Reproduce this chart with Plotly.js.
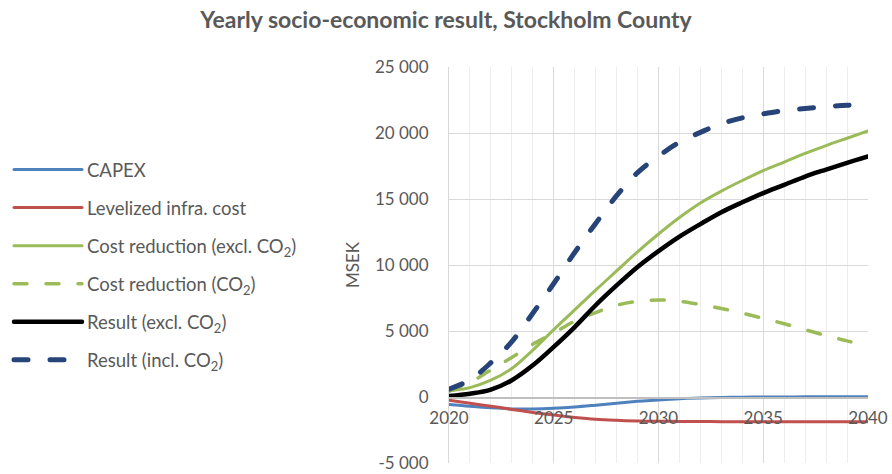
<!DOCTYPE html>
<html>
<head>
<meta charset="utf-8">
<script src="https://cdn.plot.ly/plotly-3.0.1.min.js"></script>
<style>
html,body{margin:0;padding:0;background:#fff;}
.js-line{stroke-linecap:round;}
</style>
</head>
<body>
<div id="chart" style="width:892px;height:474px;"></div>
<script>
const years = [2020,2021,2022,2023,2024,2025,2026,2027,2028,2029,2030,2031,2032,2033,2034,2035,2036,2037,2038,2039,2040];

const capex = [-560,-700,-820,-900,-910,-860,-760,-620,-470,-330,-220,-130,-70,-30,-10,0,0,10,20,20,20];
const levelizedInfra = [-250,-480,-700,-940,-1170,-1370,-1550,-1690,-1770,-1820,-1840,-1850,-1860,-1870,-1870,-1870,-1870,-1870,-1870,-1870,-1870];
const costRedExcl = [460,710,1270,2160,3550,5100,6600,8100,9550,11000,12350,13600,14700,15600,16400,17150,17800,18450,19050,19600,20150];
const costRedCO2 = [450,1100,2050,3000,4000,4850,5750,6400,6950,7250,7350,7250,7000,6700,6350,5950,5550,5100,4650,4250,3850];
const resultExcl = [75,250,560,1270,2400,3800,5300,6950,8450,9850,11050,12150,13100,14000,14750,15450,16070,16700,17230,17740,18220];
const resultIncl = [600,1300,2600,4200,6350,8600,10950,13150,15250,17000,18250,19300,20050,20700,21150,21450,21700,21850,22000,22100,22160];

const yTickVals = [-5000,0,5000,10000,15000,20000,25000];
const yTickText = ['-5 000','0','5 000','10 000','15 000','20 000','25 000'];
const xTickVals = [2020,2025,2030,2035,2040];
const xTickText = ['2020','2025','2030','2035','2040'];

const seriesNames = ['CAPEX','Levelized infra. cost','Cost reduction (excl. CO<sub>2</sub>)','Cost reduction (CO<sub>2</sub>)','Result (excl. CO<sub>2</sub>)','Result (incl. CO<sub>2</sub>)'];
const titleText = '<b>Yearly socio-economic result, Stockholm County</b>';
const yTitle = 'MSEK';

const gray = '#595959';
const font = 'Lato, "Open Sans", sans-serif';

function tr(y, name, color, width, dash, g){
  return {x: years, y: y, name: name, type: 'scatter', mode: 'lines',
    line: {color: color, width: width, dash: dash, shape: 'spline', smoothing: 1},
    legendgroup: g, hoverinfo: 'skip'};
}

const data = [
  tr(capex, seriesNames[0], '#4F81BD', 3, 'solid', 'a'),
  tr(levelizedInfra, seriesNames[1], '#C0504D', 3, 'solid', 'b'),
  tr(costRedExcl, seriesNames[2], '#9BBB59', 3, 'solid', 'c'),
  tr(costRedCO2, seriesNames[3], '#9BBB59', 3.5, '13px,19px', 'd'),
  tr(resultExcl, seriesNames[4], '#000000', 4.5, 'solid', 'e'),
  tr(resultIncl, seriesNames[5], '#264478', 5, '14px,22px', 'f')
];

const layout = {
  width: 892, height: 474,
  margin: {l: 449, r: 24, t: 67, b: 11, pad: 0},
  paper_bgcolor: '#fff', plot_bgcolor: '#fff',
  font: {family: font, color: gray, size: 17},
  title: {text: titleText, font: {family: font, size: 23, color: gray},
    x: 0.5, xref: 'container', xanchor: 'center', y: 1 - 20/474, yref: 'container', yanchor: 'middle'},
  xaxis: {
    range: [2020, 2040], tickmode: 'array', tickvals: xTickVals, ticktext: xTickText,
    anchor: 'free', position: 66/396,
    showgrid: true, gridcolor: '#D9D9D9', gridwidth: 1,
    minor: {dtick: 1, tick0: 2020, showgrid: true, gridcolor: '#EDEDED', gridwidth: 1},
    showline: true, linecolor: '#BFBFBF', linewidth: 1.5,
    ticks: '', ticklabelstandoff: 5,
    tickfont: {family: font, size: 17, color: gray},
    zeroline: false, fixedrange: true
  },
  yaxis: {
    range: [-5000, 25000], tickmode: 'array', tickvals: yTickVals, ticktext: yTickText,
    showgrid: true, gridcolor: '#D9D9D9', gridwidth: 1,
    showline: true, linecolor: '#D9D9D9', linewidth: 1,
    zeroline: false, ticks: '', ticklabelstandoff: 16,
    tickfont: {family: font, size: 17, color: gray},
    title: {text: yTitle, font: {family: font, size: 17, color: gray}, standoff: 10},
    fixedrange: true
  },
  showlegend: true,
  legend: {
    xref: 'container', yref: 'container', x: 9/892, y: 1 - 151/474, xanchor: 'left', yanchor: 'top',
    font: {family: font, size: 18.5, color: gray},
    traceorder: 'grouped', tracegroupgap: 11, itemwidth: 68,
    bgcolor: 'rgba(0,0,0,0)'
  }
};

Plotly.newPlot('chart', data, layout, {displayModeBar: false, staticPlot: true});
</script>
</body>
</html>
